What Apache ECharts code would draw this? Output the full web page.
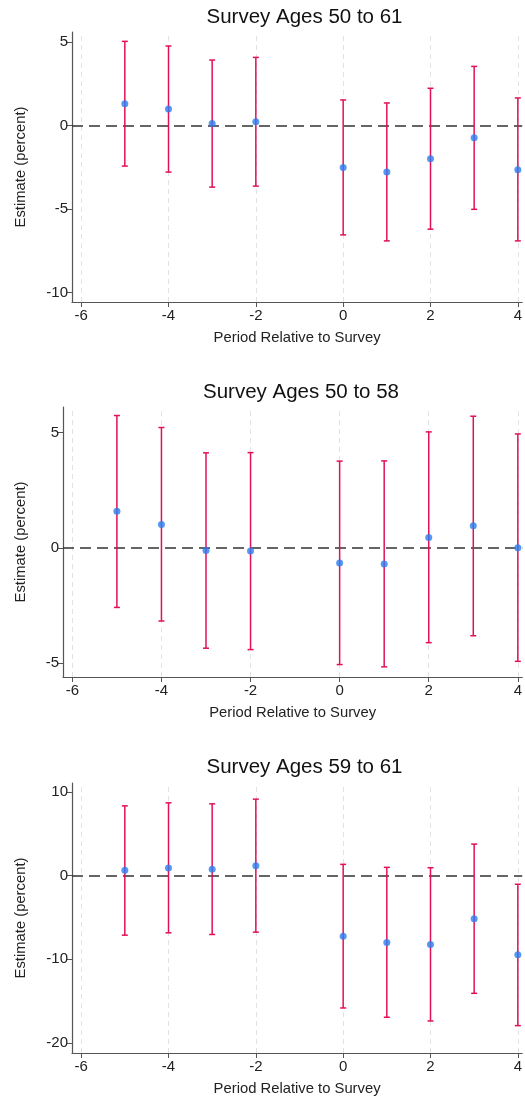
<!DOCTYPE html>
<html>
<head>
<meta charset="utf-8">
<title>Survey event study</title>
<script src="https://cdn.jsdelivr.net/npm/echarts@6/dist/echarts.min.js"></script>
<style>
  html, body { margin: 0; padding: 0; background: #ffffff; }
  #chart { width: 525px; height: 1099px; }
</style>
</head>
<body>
<div id="chart"></div>
<script>
// data
var periods = [-5, -4, -3, -2, 0, 1, 2, 3, 4];
var xTicks = [-6, -4, -2, 0, 2, 4];

var titles = ['Survey Ages 50 to 61', 'Survey Ages 50 to 58', 'Survey Ages 59 to 61'];

var est1 = [1.31, 0.99, 0.12, 0.22, -2.51, -2.79, -1.99, -0.74, -2.65];
var lo1 = [-2.43, -2.79, -3.69, -3.63, -6.55, -6.91, -6.21, -5.02, -6.91];
var hi1 = [5.04, 4.76, 3.92, 4.08, 1.53, 1.35, 2.23, 3.54, 1.65];
var yTicks1 = [-10, -5, 0, 5];

var est2 = [1.58, 1.01, -0.12, -0.14, -0.66, -0.71, 0.45, 0.95, 0.0];
var lo2 = [-2.59, -3.18, -4.36, -4.42, -5.07, -5.17, -4.12, -3.82, -4.93];
var hi2 = [5.74, 5.22, 4.12, 4.13, 3.76, 3.77, 5.03, 5.71, 4.94];
var yTicks2 = [-5, 0, 5];

var est3 = [0.64, 0.91, 0.75, 1.19, -7.23, -7.99, -8.22, -5.16, -9.46];
var lo3 = [-7.11, -6.83, -7.03, -6.75, -15.81, -16.92, -17.36, -14.06, -17.92];
var hi3 = [8.34, 8.70, 8.58, 9.14, 1.35, 0.99, 0.95, 3.77, -1.03];
var yTicks3 = [-20, -10, 0, 10];

var RED = '#e2105a';
var BLUE = '#2a7ef0';
var AXIS = '#555555';
var FONT = '"Liberation Sans", Arial, sans-serif';

var panels = [
    {title: titles[0], est: est1, lo: lo1, hi: hi1, yTicks: yTicks1, ymin: -10.57, ymax: 5.6, left: 72, top: 32, nameGap: 44, titleX: 299.5, titleY: 2},
    {title: titles[1], est: est2, lo: lo2, hi: hi2, yTicks: yTicks2, ymin: -5.61, ymax: 6.11, left: 63, top: 407, nameGap: 35, titleX: 296, titleY: 377},
    {title: titles[2], est: est3, lo: lo3, hi: hi3, yTicks: yTicks3, ymin: -21.19, ymax: 11.07, left: 72, top: 783, nameGap: 44, titleX: 299.5, titleY: 752}
];

function errorBarItem(params, api) {
    var x = api.value(0);
    var top = api.coord([x, api.value(2)]);
    var bot = api.coord([x, api.value(1)]);
    var w = 3;
    var st = {stroke: RED, lineWidth: 1.5};
    return {
        type: 'group',
        children: [
            {type: 'line', shape: {x1: top[0], y1: top[1], x2: bot[0], y2: bot[1]}, style: st},
            {type: 'line', shape: {x1: top[0] - w, y1: top[1], x2: top[0] + w, y2: top[1]}, style: st},
            {type: 'line', shape: {x1: bot[0] - w, y1: bot[1], x2: bot[0] + w, y2: bot[1]}, style: st}
        ]
    };
}

var option = {
    animation: false,
    backgroundColor: '#ffffff',
    textStyle: {fontFamily: FONT},
    title: [],
    grid: [],
    xAxis: [],
    yAxis: [],
    series: []
};

panels.forEach(function (p, i) {
    option.title.push({
        text: p.title,
        left: p.titleX,
        top: p.titleY,
        textAlign: 'center',
        textStyle: {fontFamily: FONT, fontSize: 20.5, fontWeight: 'normal', color: '#111111'}
    });
    option.grid.push({left: p.left, top: p.top, right: 0, height: 270});
    option.xAxis.push({
        type: 'value',
        gridIndex: i,
        min: -6.21,
        max: 4.1,
        name: 'Period Relative to Survey',
        nameLocation: 'middle',
        nameGap: 28,
        nameTextStyle: {fontFamily: FONT, fontSize: 14.8, color: '#222222'},
        axisLine: {show: true, onZero: false, lineStyle: {color: AXIS, width: 1.2}},
        axisTick: {show: true, length: 5, customValues: xTicks, lineStyle: {color: AXIS}},
        axisLabel: {customValues: xTicks, fontFamily: FONT, fontSize: 15, color: '#222222', margin: 6},
        splitLine: {show: false}
    });
    option.yAxis.push({
        type: 'value',
        gridIndex: i,
        min: p.ymin,
        max: p.ymax,
        name: 'Estimate (percent)',
        nameLocation: 'middle',
        nameGap: p.nameGap,
        nameTextStyle: {fontFamily: FONT, fontSize: 14.8, color: '#222222'},
        axisLine: {show: true, onZero: false, lineStyle: {color: AXIS, width: 1.2}},
        axisTick: {show: true, length: 5, customValues: p.yTicks, lineStyle: {color: AXIS}},
        axisLabel: {customValues: p.yTicks, fontFamily: FONT, fontSize: 15, color: '#222222', margin: 4},
        splitLine: {show: false}
    });

    var gridLines = xTicks.map(function (v) {
        return {xAxis: v, lineStyle: {color: '#e2e2e2', type: [5, 4], width: 1}};
    });
    gridLines.push({yAxis: 0, lineStyle: {color: '#333333', type: [11, 6], width: 1.5}});

    var bars = periods.map(function (x, k) { return [x, p.lo[k], p.hi[k]]; });
    var pts = periods.map(function (x, k) { return [x, p.est[k]]; });

    option.series.push({
        type: 'custom',
        xAxisIndex: i,
        yAxisIndex: i,
        renderItem: errorBarItem,
        encode: {x: 0, y: [1, 2]},
        data: bars,
        clip: false,
        silent: true,
        z: 3,
        markLine: {
            silent: true,
            symbol: 'none',
            label: {show: false},
            data: gridLines,
            z: 1
        }
    });
    option.series.push({
        type: 'scatter',
        xAxisIndex: i,
        yAxisIndex: i,
        symbol: 'circle',
        symbolSize: 7,
        itemStyle: {color: BLUE},
        data: pts,
        silent: true,
        z: 4
    });
});

var myChart = echarts.init(document.getElementById('chart'), null, {renderer: 'canvas'});
myChart.setOption(option);
</script>
</body>
</html>
